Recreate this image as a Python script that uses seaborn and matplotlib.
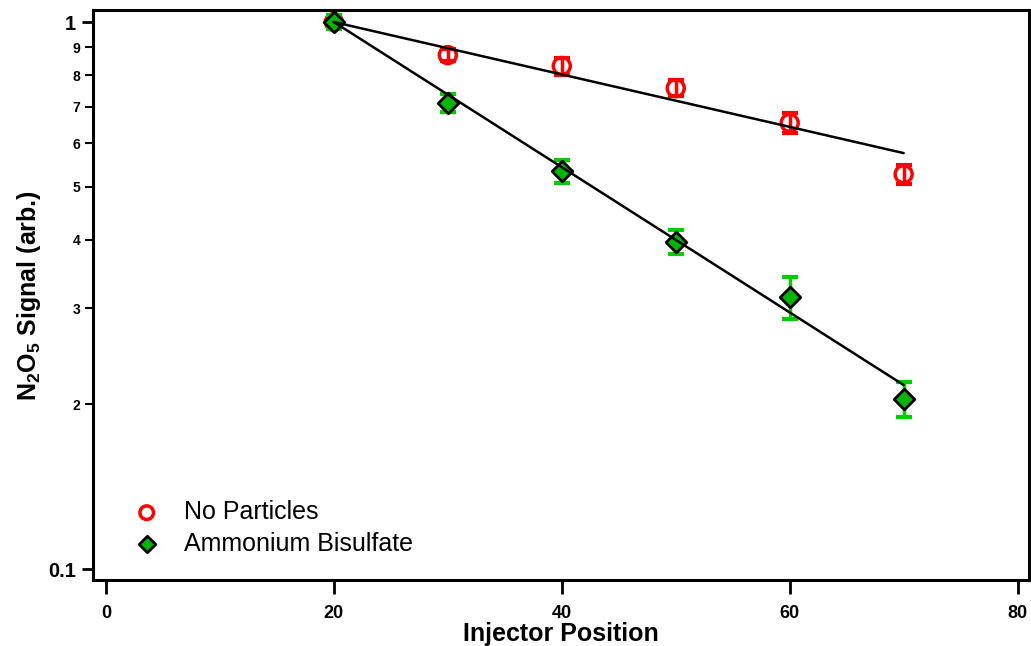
import numpy as np
import pandas as pd
import matplotlib
matplotlib.use("Agg")
import matplotlib.pyplot as plt
import seaborn as sns
from matplotlib.ticker import FixedLocator, FixedFormatter, NullFormatter

# ---- data ----
positions = [20, 30, 40, 50, 60, 70]
no_particles = [1.00, 0.870, 0.831, 0.757, 0.654, 0.527]
no_particles_err = [0.015, 0.022, 0.030, 0.025, 0.028, 0.022]
bisulfate = [1.00, 0.711, 0.534, 0.396, 0.314, 0.205]
bisulfate_err = [0.030, 0.027, 0.026, 0.020, 0.028, 0.015]
fit_x = [20, 70]
fit_no_particles = [1.00, 0.576]
fit_bisulfate = [1.00, 0.217]

x_ticks = [0, 20, 40, 60, 80]
y_major = [0.1, 1.0]
y_major_labels = ["0.1", "1"]
y_minor = [0.2, 0.3, 0.4, 0.5, 0.6, 0.7, 0.8, 0.9]
y_minor_labels = ["2", "3", "4", "5", "6", "7", "8", "9"]

sns.set_theme(style="ticks")
plt.rcParams["font.family"] = ["Liberation Sans", "DejaVu Sans"]
plt.rcParams["mathtext.fontset"] = "custom"
plt.rcParams["mathtext.rm"] = "Liberation Sans:bold"
plt.rcParams["mathtext.bf"] = "Liberation Sans:bold"
plt.rcParams["mathtext.default"] = "bf"
plt.rcParams["text.color"] = "black"
plt.rcParams["axes.labelcolor"] = "black"
plt.rcParams["xtick.color"] = "black"
plt.rcParams["ytick.color"] = "black"

fig = plt.figure(figsize=(10.31, 6.46), dpi=100)
ax = fig.add_axes([93 / 1031, 1 - 580 / 646, (1029 - 93) / 1031, (580 - 10) / 646])

red = "#ff0000"
green = "#00cc00"

df_np = pd.DataFrame({"x": positions, "y": no_particles})
df_ab = pd.DataFrame({"x": positions, "y": bisulfate})

# error bars
sns.scatterplot(data=df_np, x="x", y="y", ax=ax, marker="o", s=150,
                facecolor="none", edgecolor=red, linewidth=2.5, zorder=2,
                label="No Particles")
ax.errorbar(positions, no_particles, yerr=no_particles_err, fmt="none",
            ecolor=red, elinewidth=2.5, capsize=6, capthick=3, zorder=3)
ax.errorbar(positions, bisulfate, yerr=bisulfate_err, fmt="none",
            ecolor=green, elinewidth=2.5, capsize=6, capthick=3, zorder=4)
sns.scatterplot(data=df_ab, x="x", y="y", ax=ax, marker="D", s=110,
                color="#00b400", edgecolor="black", linewidth=2, zorder=5,
                label="Ammonium Bisulfate")

# fit lines
sns.lineplot(x=fit_x, y=fit_no_particles, ax=ax, color="black", linewidth=1.8,
             zorder=6, legend=False)
sns.lineplot(x=fit_x, y=fit_bisulfate, ax=ax, color="black", linewidth=1.8,
             zorder=6, legend=False)

ax.set_yscale("log")
ax.set_xlim(-1.14, 81.0)
ax.set_ylim(0.0955, 1.052)

ax.xaxis.set_major_locator(FixedLocator(x_ticks))
ax.set_xticklabels([str(t) for t in x_ticks])
ax.yaxis.set_major_locator(FixedLocator(y_major))
ax.yaxis.set_major_formatter(FixedFormatter(y_major_labels))
ax.yaxis.set_minor_locator(FixedLocator(y_minor))
ax.yaxis.set_minor_formatter(FixedFormatter(y_minor_labels))
ax.xaxis.set_minor_formatter(NullFormatter())

ax.tick_params(axis="x", which="major", direction="out", length=10, width=2,
               labelsize=13, pad=8, color="black", labelcolor="black")
ax.tick_params(axis="y", which="major", direction="out", length=8, width=2,
               labelsize=14.5, pad=4, color="black", labelcolor="black")
ax.tick_params(axis="y", which="minor", direction="out", length=6, width=1.5,
               labelsize=10, pad=3, color="black", labelcolor="black")
for lab in ax.get_xticklabels() + ax.get_yticklabels() + ax.get_yticklabels(minor=True):
    lab.set_fontweight("bold")

for sp in ax.spines.values():
    sp.set_visible(True)
    sp.set_linewidth(2.2)
    sp.set_color("black")

ax.set_xlabel("Injector Position", fontsize=18, fontweight="bold", labelpad=0,
              color="black")
ax.set_ylabel("N$_2$O$_5$ Signal (arb.)", fontsize=18, fontweight="bold",
              labelpad=4, color="black")
ax.grid(False)

leg = ax.legend(loc="lower left", bbox_to_anchor=(0.02, 0.025), frameon=False,
                fontsize=18, handletextpad=0.5, labelspacing=0.3,
                markerscale=0.8, borderaxespad=0)
for t in leg.get_texts():
    t.set_color("black")

fig.savefig("out.png", dpi=100)
